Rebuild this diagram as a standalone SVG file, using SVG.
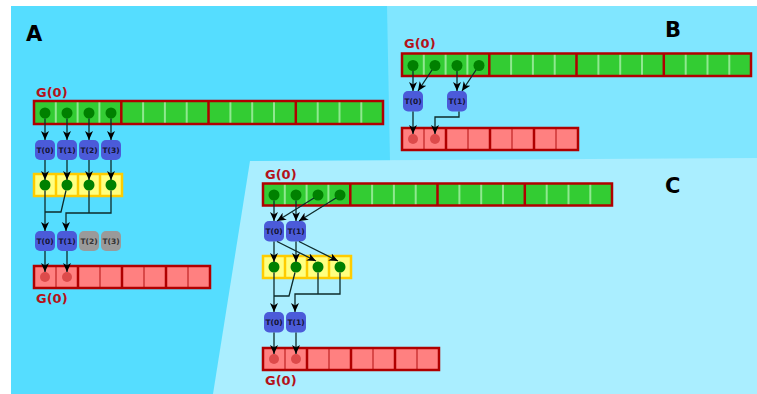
<svg xmlns="http://www.w3.org/2000/svg" width="757" height="394" viewBox="0 0 757 394">
<defs>
<marker id="arr" markerUnits="userSpaceOnUse" markerWidth="10" markerHeight="10" viewBox="0 0 10 8" refX="9" refY="4" orient="auto">
<path d="M0,0 L9,4 L0,8 L2.5,4 z" fill="#000"/>
</marker>
</defs>
<style>
.lbl{font-family:"DejaVu Sans",sans-serif;font-weight:bold;font-size:21px;fill:#000}
.g0{font-family:"DejaVu Sans",sans-serif;font-weight:bold;font-size:13px;fill:#b3121a}
.garr{fill:#33cc33}
.rarr{fill:#ff8080}
.yarr{fill:#ffff80}
.bord{fill:none;stroke:#b00000;stroke-width:2.5}
.ybord{fill:none;stroke:#ffcc00;stroke-width:2.5}
.gsep{stroke:#90e890;stroke-width:2}
.rsep{stroke:#d94848;stroke-width:2}
.grpsep{stroke:#b00000;stroke-width:2.5}
.ysep{stroke:#ffcc00;stroke-width:2.5}
.gdot{fill:#008000}
.rdot{fill:#dd4a4a}
.tb{fill:#4b5bd9}
.tg{fill:#9a9a9a}
.tt{font-family:"DejaVu Sans",sans-serif;font-weight:bold;font-size:7.5px;fill:#141432;text-anchor:middle}
.ttg{font-family:"DejaVu Sans",sans-serif;font-weight:bold;font-size:7.5px;fill:#333;text-anchor:middle}
.cn{fill:none;stroke:#0d2b2b;stroke-width:1.3}
.ca{fill:none;stroke:#0d2b2b;stroke-width:1.3;marker-end:url(#arr)}
</style>
<rect x="0" y="0" width="757" height="394" fill="#fff"/>
<g id="panels">
<rect x="11" y="6" width="746" height="388" fill="#55ddff"/>
<polygon points="387,6 757,6 757,159 390,161" fill="#80e6ff"/>
<polygon points="250,161 757,158 757,394 213,394" fill="#aaeeff"/>
</g>
<g id="labels">
<text class="lbl" x="26" y="41">A</text>
<text class="lbl" x="665" y="37">B</text>
<text class="lbl" x="665" y="193">C</text>
<text class="g0" x="36" y="97">G(0)</text>
<text class="g0" x="36" y="303">G(0)</text>
<text class="g0" x="404" y="48">G(0)</text>
<text class="g0" x="265" y="179">G(0)</text>
<text class="g0" x="265" y="385">G(0)</text>
</g>
<!-- Panel A -->
<g id="A-green">
<rect class="garr" x="34" y="101" width="349" height="23"/>
<g class="gsep">
<line x1="55.8" y1="102" x2="55.8" y2="123"/><line x1="77.6" y1="102" x2="77.6" y2="123"/><line x1="99.4" y1="102" x2="99.4" y2="123"/>
<line x1="143.1" y1="102" x2="143.1" y2="123"/><line x1="164.9" y1="102" x2="164.9" y2="123"/><line x1="186.7" y1="102" x2="186.7" y2="123"/>
<line x1="230.4" y1="102" x2="230.4" y2="123"/><line x1="252.2" y1="102" x2="252.2" y2="123"/><line x1="274" y1="102" x2="274" y2="123"/>
<line x1="317.7" y1="102" x2="317.7" y2="123"/><line x1="339.5" y1="102" x2="339.5" y2="123"/><line x1="361.3" y1="102" x2="361.3" y2="123"/>
</g>
<g class="grpsep"><line x1="121.3" y1="101" x2="121.3" y2="124"/><line x1="208.5" y1="101" x2="208.5" y2="124"/><line x1="295.8" y1="101" x2="295.8" y2="124"/></g>
<rect class="bord" x="34" y="101" width="349" height="23"/>
<circle class="gdot" cx="45" cy="113" r="5.5"/><circle class="gdot" cx="67" cy="113" r="5.5"/><circle class="gdot" cx="89" cy="113" r="5.5"/><circle class="gdot" cx="111" cy="113" r="5.5"/>
</g>
<g id="A-T1">
<rect class="tb" x="35" y="140" width="20" height="20" rx="5"/><text class="tt" x="45" y="152.7">T(0)</text>
<rect class="tb" x="57" y="140" width="20" height="20" rx="5"/><text class="tt" x="67" y="152.7">T(1)</text>
<rect class="tb" x="79" y="140" width="20" height="20" rx="5"/><text class="tt" x="89" y="152.7">T(2)</text>
<rect class="tb" x="101" y="140" width="20" height="20" rx="5"/><text class="tt" x="111" y="152.7">T(3)</text>
</g>
<g id="A-yellow">
<rect class="yarr" x="34" y="174" width="88" height="22"/>
<g class="ysep"><line x1="56" y1="174" x2="56" y2="196"/><line x1="78" y1="174" x2="78" y2="196"/><line x1="100" y1="174" x2="100" y2="196"/></g>
<rect class="ybord" x="34" y="174" width="88" height="22"/>
<circle class="gdot" cx="45" cy="185" r="5.5"/><circle class="gdot" cx="67" cy="185" r="5.5"/><circle class="gdot" cx="89" cy="185" r="5.5"/><circle class="gdot" cx="111" cy="185" r="5.5"/>
</g>
<g id="A-T2">
<rect class="tb" x="35" y="231" width="20" height="20" rx="5"/><text class="tt" x="45" y="243.7">T(0)</text>
<rect class="tb" x="57" y="231" width="20" height="20" rx="5"/><text class="tt" x="67" y="243.7">T(1)</text>
<rect class="tg" x="79" y="231" width="20" height="20" rx="5"/><text class="ttg" x="89" y="243.7">T(2)</text>
<rect class="tg" x="101" y="231" width="20" height="20" rx="5"/><text class="ttg" x="111" y="243.7">T(3)</text>
</g>
<g id="A-red">
<rect class="rarr" x="34" y="266" width="176" height="22"/>
<g class="rsep"><line x1="56" y1="267" x2="56" y2="287"/><line x1="100" y1="267" x2="100" y2="287"/><line x1="144" y1="267" x2="144" y2="287"/><line x1="188" y1="267" x2="188" y2="287"/></g>
<g class="grpsep"><line x1="78" y1="266" x2="78" y2="288"/><line x1="122" y1="266" x2="122" y2="288"/><line x1="166" y1="266" x2="166" y2="288"/></g>
<rect class="bord" x="34" y="266" width="176" height="22"/>
<circle class="rdot" cx="45" cy="277" r="5"/><circle class="rdot" cx="67" cy="277" r="5"/>
</g>
<!-- Panel B -->
<g id="B-green">
<rect class="garr" x="402" y="53.5" width="349" height="22.5"/>
<g class="gsep">
<line x1="423.8" y1="54" x2="423.8" y2="75"/><line x1="445.6" y1="54" x2="445.6" y2="75"/><line x1="467.4" y1="54" x2="467.4" y2="75"/>
<line x1="511.1" y1="54" x2="511.1" y2="75"/><line x1="532.9" y1="54" x2="532.9" y2="75"/><line x1="554.7" y1="54" x2="554.7" y2="75"/>
<line x1="598.4" y1="54" x2="598.4" y2="75"/><line x1="620.2" y1="54" x2="620.2" y2="75"/><line x1="642" y1="54" x2="642" y2="75"/>
<line x1="685.7" y1="54" x2="685.7" y2="75"/><line x1="707.5" y1="54" x2="707.5" y2="75"/><line x1="729.3" y1="54" x2="729.3" y2="75"/>
</g>
<g class="grpsep"><line x1="489.3" y1="53.5" x2="489.3" y2="76"/><line x1="576.5" y1="53.5" x2="576.5" y2="76"/><line x1="663.8" y1="53.5" x2="663.8" y2="76"/></g>
<rect class="bord" x="402" y="53.5" width="349" height="22.5"/>
<circle class="gdot" cx="413" cy="65.5" r="5.5"/><circle class="gdot" cx="435" cy="65.5" r="5.5"/><circle class="gdot" cx="457" cy="65.5" r="5.5"/><circle class="gdot" cx="479" cy="65.5" r="5.5"/>
</g>
<g id="B-T">
<rect class="tb" x="403" y="91" width="20" height="20.5" rx="5"/><text class="tt" x="413" y="103.9">T(0)</text>
<rect class="tb" x="447" y="91" width="20" height="20.5" rx="5"/><text class="tt" x="457" y="103.9">T(1)</text>
</g>
<g id="B-red">
<rect class="rarr" x="402" y="128" width="176" height="22"/>
<g class="rsep"><line x1="424" y1="129" x2="424" y2="149"/><line x1="468" y1="129" x2="468" y2="149"/><line x1="512" y1="129" x2="512" y2="149"/><line x1="556" y1="129" x2="556" y2="149"/></g>
<g class="grpsep"><line x1="446" y1="128" x2="446" y2="150"/><line x1="490" y1="128" x2="490" y2="150"/><line x1="534" y1="128" x2="534" y2="150"/></g>
<rect class="bord" x="402" y="128" width="176" height="22"/>
<circle class="rdot" cx="413" cy="139" r="5"/><circle class="rdot" cx="435" cy="139" r="5"/>
</g>
<!-- Panel C -->
<g id="C-green">
<rect class="garr" x="263" y="183.5" width="349" height="22"/>
<g class="gsep">
<line x1="284.8" y1="184" x2="284.8" y2="205"/><line x1="306.6" y1="184" x2="306.6" y2="205"/><line x1="328.4" y1="184" x2="328.4" y2="205"/>
<line x1="372.1" y1="184" x2="372.1" y2="205"/><line x1="393.9" y1="184" x2="393.9" y2="205"/><line x1="415.7" y1="184" x2="415.7" y2="205"/>
<line x1="459.4" y1="184" x2="459.4" y2="205"/><line x1="481.2" y1="184" x2="481.2" y2="205"/><line x1="503" y1="184" x2="503" y2="205"/>
<line x1="546.7" y1="184" x2="546.7" y2="205"/><line x1="568.5" y1="184" x2="568.5" y2="205"/><line x1="590.3" y1="184" x2="590.3" y2="205"/>
</g>
<g class="grpsep"><line x1="350.3" y1="183.5" x2="350.3" y2="205.5"/><line x1="437.5" y1="183.5" x2="437.5" y2="205.5"/><line x1="524.8" y1="183.5" x2="524.8" y2="205.5"/></g>
<rect class="bord" x="263" y="183.5" width="349" height="22"/>
<circle class="gdot" cx="274" cy="195" r="5.5"/><circle class="gdot" cx="296" cy="195" r="5.5"/><circle class="gdot" cx="318" cy="195" r="5.5"/><circle class="gdot" cx="340" cy="195" r="5.5"/>
</g>
<g id="C-T1">
<rect class="tb" x="264" y="221" width="20" height="20.5" rx="5"/><text class="tt" x="274" y="233.9">T(0)</text>
<rect class="tb" x="286" y="221" width="20" height="20.5" rx="5"/><text class="tt" x="296" y="233.9">T(1)</text>
</g>
<g id="C-yellow">
<rect class="yarr" x="263" y="256" width="88" height="22"/>
<g class="ysep"><line x1="285" y1="256" x2="285" y2="278"/><line x1="307" y1="256" x2="307" y2="278"/><line x1="329" y1="256" x2="329" y2="278"/></g>
<rect class="ybord" x="263" y="256" width="88" height="22"/>
<circle class="gdot" cx="274" cy="267" r="5.5"/><circle class="gdot" cx="296" cy="267" r="5.5"/><circle class="gdot" cx="318" cy="267" r="5.5"/><circle class="gdot" cx="340" cy="267" r="5.5"/>
</g>
<g id="C-T2">
<rect class="tb" x="264" y="312" width="20" height="20.5" rx="5"/><text class="tt" x="274" y="324.9">T(0)</text>
<rect class="tb" x="286" y="312" width="20" height="20.5" rx="5"/><text class="tt" x="296" y="324.9">T(1)</text>
</g>
<g id="C-red">
<rect class="rarr" x="263" y="348" width="176" height="22"/>
<g class="rsep"><line x1="285" y1="349" x2="285" y2="369"/><line x1="329" y1="349" x2="329" y2="369"/><line x1="373" y1="349" x2="373" y2="369"/><line x1="417" y1="349" x2="417" y2="369"/></g>
<g class="grpsep"><line x1="307" y1="348" x2="307" y2="370"/><line x1="351" y1="348" x2="351" y2="370"/><line x1="395" y1="348" x2="395" y2="370"/></g>
<rect class="bord" x="263" y="348" width="176" height="22"/>
<circle class="rdot" cx="274" cy="359" r="5"/><circle class="rdot" cx="296" cy="359" r="5"/>
</g>
<g id="connectors">
<!-- A -->
<path class="ca" d="M45,118.5 V140"/><path class="ca" d="M67,118.5 V140"/><path class="ca" d="M89,118.5 V140"/><path class="ca" d="M111,118.5 V140"/>
<path class="ca" d="M45,160 V180"/><path class="ca" d="M67,160 V180"/><path class="ca" d="M89,160 V180"/><path class="ca" d="M111,160 V180"/>
<path class="ca" d="M45,190.5 V231"/>
<path class="cn" d="M66,190.5 L61,212 H45"/>
<path class="cn" d="M89,190.5 V213"/>
<path class="ca" d="M111,190.5 V213 H66 V231"/>
<path class="ca" d="M45,251 V272"/><path class="ca" d="M67,251 V272"/>
<!-- B -->
<path class="ca" d="M413,71 V91"/>
<path class="ca" d="M432,70 L418,91"/>
<path class="ca" d="M457,71 V91"/>
<path class="ca" d="M476,70 L462,91"/>
<path class="ca" d="M413,111.5 V134"/>
<path class="ca" d="M459,111.5 V117 H435 V134"/>
<!-- C -->
<path class="ca" d="M274,200.5 V221"/>
<path class="ca" d="M296,200.5 V221"/>
<path class="ca" d="M314,198 L277,221"/>
<path class="ca" d="M336,198 L299,221"/>
<path class="ca" d="M274,241.5 V262"/>
<path class="ca" d="M277,241.5 L316,261"/>
<path class="ca" d="M296,241.5 V262"/>
<path class="ca" d="M299,241.5 L338,261"/>
<path class="ca" d="M274,272.5 V312"/>
<path class="cn" d="M295,272.5 L289,296 H274"/>
<path class="cn" d="M318,272.5 V294"/>
<path class="ca" d="M340,272.5 V294 H295 V312"/>
<path class="ca" d="M274,332.5 V354"/>
<path class="ca" d="M296,332.5 V354"/>
</g>
</svg>
